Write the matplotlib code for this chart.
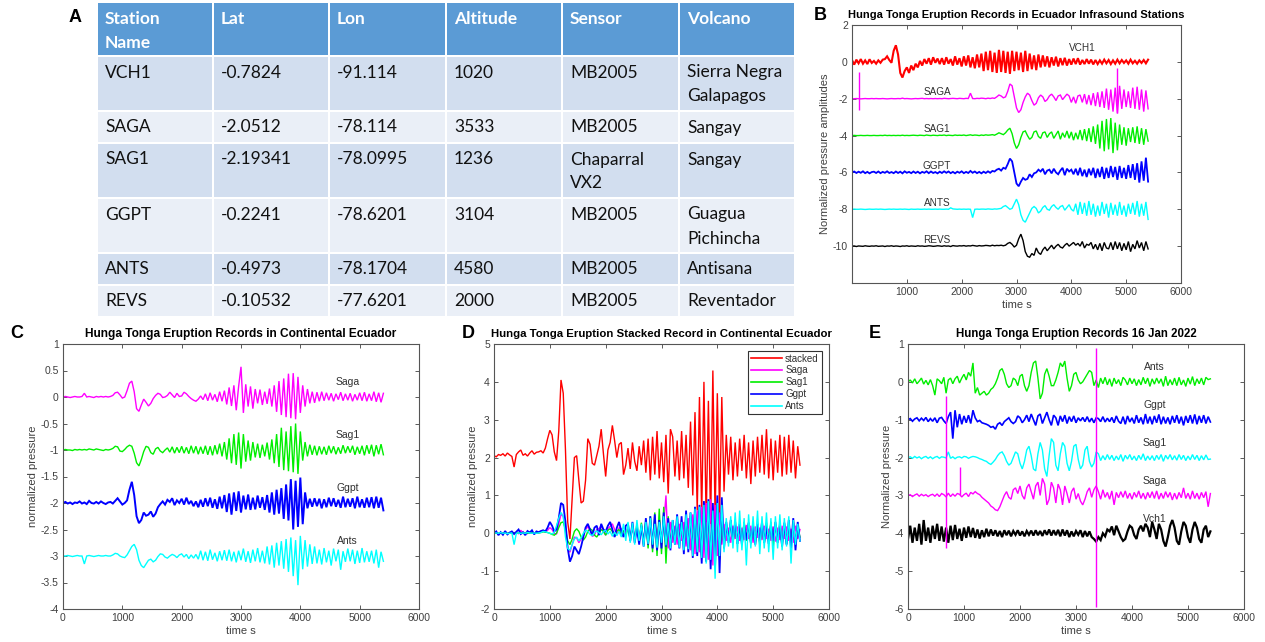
import numpy as np
import matplotlib
matplotlib.use("Agg")
import matplotlib.pyplot as plt
from matplotlib.patches import Rectangle
from matplotlib.ticker import FuncFormatter

# ---------------------------------------------------------------- station table
table_header = ["Station\nName", "Lat", "Lon", "Altitude", "Sensor", "Volcano"]
station = ["VCH1", "SAGA", "SAG1", "GGPT", "ANTS", "REVS"]
lat = [-0.7824, -2.0512, -2.19341, -0.2241, -0.4973, -0.10532]
lon = [-91.114, -78.114, -78.0995, -78.6201, -78.1704, -77.6201]
altitude = [1020, 3533, 1236, 3104, 4580, 2000]
sensor = ["MB2005", "MB2005", "Chaparral\nVX2", "MB2005", "MB2005", "MB2005"]
volcano = ["Sierra Negra\nGalapagos", "Sangay", "Sangay", "Guagua\nPichincha",
           "Antisana", "Reventador"]

# ---------------------------------------------------------------- waveforms
# All records are sampled every DT seconds; amplitudes are in hundredths of a
# normalized unit, relative to each trace's baseline.
DT = 40.0
CENTI = 0.01

# B: Ecuador infrasound stations (baselines 0, -2, ..., -10)
b_names = ["VCH1", "SAGA", "SAG1", "GGPT", "ANTS", "REVS"]
b_offsets = [0, -2, -4, -6, -8, -10]
b_vch1 = [10, -15, 12, -8, 15, -10, 8, -12, 14, -6,
          5, -10, 8, -5, 12, 15, 30, 10, -5, 60,
          90, 40, -60, -85, -50, -30, -60, -20, -45, -10,
          -30, 5, -20, 15, -10, 20, -15, 25, -5, 18,
          -12, 20, -15, 25, -10, 15, -20, 30, -15, 20,
          -25, 30, -20, 35, -30, 25, -35, 40, -30, 45,
          -50, 55, -45, 60, -55, 50, -60, 65, -55, 60,
          -60, 55, -65, 60, -50, 55, -45, 50, -55, 60,
          -50, 45, -40, 35, -45, 40, -30, 35, -25, 30,
          -30, 25, -20, 28, -25, 20, -18, 22, -20, 15,
          -15, 18, -12, 20, -15, 10, -12, 15, -10, 12,
          -14, 10, -12, 8, -10, 12, -8, 10, -12, 8,
          -10, 12, -8, 10, -6, 8, -10, 12, -8, 6,
          -10, 8, -6, 10, -8, 12]
b_saga = [0, 0, 1, 0, -1, 0, 1, 0, 0, 1,
          0, 1, 0, 0, 1, 0, -1, 0, 1, 0,
          0, 1, 0, 3, 0, 1, 0, -1, 0, 1,
          0, 1, 2, 0, 1, 0, 1, 0, 1, 0,
          1, 0, 2, 1, 0, 1, 2, 1, 0, 2,
          1, 0, 2, 1, 30, 1, 0, 2, 1, 3,
          2, 0, 3, 1, 4, 2, 10, 20, 15, 5,
          10, 40, 80, 70, 10, -50, -75, -60, -20, 10,
          30, 20, -10, -35, -25, 5, 20, 10, -15, -5,
          15, 25, 10, -10, 15, 20, -5, 10, 25, 15,
          -20, 10, -25, 15, 20, -20, 25, -30, 20, -35,
          30, -40, 35, -45, 40, -50, 55, -60, 50, -70,
          60, -80, 70, -55, 50, -45, 40, -50, 60, -55,
          65, -60, 50, -70, 45, -55]
b_sag1 = [0, 1, 0, 0, 1, 0, 0, 1, 0, 0,
          1, 0, 0, 1, 0, 2, 0, 1, 0, 1,
          0, 1, 0, 2, 0, 1, 0, 1, 2, 1,
          0, 2, 1, 0, 3, 1, 0, 2, 1, 0,
          2, 1, 3, 0, 2, 1, 0, 3, 1, 2,
          1, 3, 0, 2, 4, 1, 3, 2, 0, 3,
          1, 4, 2, 3, 5, 2, 8, 15, 10, 5,
          15, 30, 40, 10, -40, -70, -50, -10, 20, 25,
          0, -20, -10, 20, 25, -5, -15, 15, 20, -10,
          10, 20, -15, 5, 25, -20, 15, -10, 25, -15,
          20, -25, 15, -20, 30, -25, 35, -30, 40, -35,
          50, -45, 60, -70, 80, -85, 90, -75, 95, -95,
          70, -80, 60, -50, 45, -55, 40, -35, 45, -40,
          50, -45, 40, -50, 35, -30]
b_ggpt = [0, 5, -3, 4, -2, 6, -4, 3, -5, 2,
          4, -3, 5, -4, 3, -2, 6, -3, 2, -4,
          5, -3, 4, -5, 6, -2, 3, -4, 5, -3,
          4, -5, 3, -2, 6, -4, 5, -3, 2, -5,
          4, -3, 6, -2, 5, -4, 3, -5, 4, -2,
          6, -4, 3, -3, 8, -2, 5, -4, 3, -5,
          4, -3, 6, -2, 8, 5, 15, 20, 10, 25,
          20, 45, 75, 60, 0, -60, -75, -50, -30, -40,
          -35, -10, -25, -5, 0, 15, 5, 20, -10, 10,
          15, -5, 20, 0, -10, 10, 25, -15, 20, 5,
          15, -10, 20, -15, 25, -20, 15, -25, 20, -15,
          25, -30, 20, -25, 30, -35, 25, -30, 35, -25,
          30, -40, 35, -30, 25, -35, 40, -30, 45, -40,
          50, -55, 60, -45, 80, -50]
b_ants = [0, 1, 0, 0, 1, 0, -1, 0, 1, 0,
          0, 1, 0, 1, 0, -1, 0, 1, 0, 1,
          0, 0, 1, 0, 1, 0, -1, 1, 0, 0,
          1, 0, 0, 1, 0, 1, 0, 0, 1, 0,
          1, 0, 0, 1, 0, 8, 2, 1, 0, 1,
          0, 1, 0, 1, 0, -45, 0, 1, 0, 1,
          1, 0, 2, 1, 0, 2, 1, 3, 5, 15,
          20, 10, 0, 5, 30, 55, 25, -30, -60, -70,
          -45, -20, 5, 15, 5, -20, -10, 10, 20, 0,
          -5, 15, 25, 10, 0, 15, 20, -5, 10, 25,
          0, -10, 30, -30, 40, -25, 35, -35, 45, -30,
          30, -40, 20, -35, 40, -25, 30, -45, 35, -30,
          25, -35, 40, -30, 20, -40, 30, -25, 35, -30,
          45, -40, 30, -35, 40, -55]
b_revs = [0, 1, -2, 1, 0, -1, 2, 0, -1, 1,
          0, 2, -1, 0, 1, -2, 1, 0, 2, -1,
          1, 0, -2, 1, 0, 2, -1, 1, 0, -1,
          2, 0, 1, -1, 0, 2, 1, -1, 0, 2,
          1, -1, 2, 0, 1, -2, 3, 1, 0, 2,
          1, 3, 0, 2, 1, 4, 2, 0, 3, 1,
          2, 4, 3, 1, 5, 2, 4, 3, 5, 2,
          5, 15, 20, 10, -5, 5, 40, 65, 30, -30,
          -55, -60, -40, -50, -10, -35, -45, -20, -5, -25,
          -10, 5, -15, 0, 10, -5, -10, 5, 15, 0,
          10, 20, 5, 15, 0, 25, -10, 10, 5, 20,
          -15, 10, -20, 15, -25, 20, -10, -15, 20, -20,
          25, -15, 20, -25, 15, -20, 25, -30, 10, -15,
          30, -10, 20, -25, 25, -15]
# isolated glitches in the SAGA record: time [s], low and high excursion
b_saga_glitch_t = [128, 4830]
b_saga_glitch_lo = [-0.60, -0.76]
b_saga_glitch_hi = [1.45, 1.66]

# C: continental Ecuador (baselines 0, -1, -2, -3)
c_names = ["Saga", "Sag1", "Ggpt", "Ants"]
c_offsets = [0, -1, -2, -3]
c_saga = [0, 1, 0, -1, 0, 1, 0, 0, 1, 7,
          0, 1, 0, -1, 1, 0, 1, 0, 1, 0,
          1, 3, 8, 9, 4, -2, 0, 12, 26, 30,
          10, -22, -27, -15, -4, -10, -17, -12, -3, 3,
          7, 5, -1, 0, 3, 9, 4, -1, 7, 1,
          2, 9, 6, 1, -3, -6, -8, -4, 2, -5,
          6, -7, 8, -6, 5, -9, 10, -8, 12, -14,
          18, -17, 22, -25, 20, 57, -30, 24, -18, 20,
          -22, 15, -12, 14, -15, 10, -13, 16, -18, 22,
          -28, 30, -34, 35, -38, 44, -40, 45, -42, 38,
          -30, 22, -18, 15, -12, 10, -11, 9, -8, 10,
          -7, 8, -6, 7, -8, 6, -5, 9, -7, 6,
          -6, 7, -8, 5, -6, 8, -7, 9, -8, 6,
          -7, 10, -9, 8, -10, 7]
c_sag1 = [0, 1, 0, 0, -1, 1, 0, 1, 0, 1,
          0, 2, 1, 0, 2, 1, 0, -1, 1, 0,
          1, 3, 7, 6, -2, -3, 1, 6, 9, 7,
          -6, -24, -30, -18, -3, 7, 5, -5, -8, 2,
          5, -2, -5, 0, 4, -4, 6, -6, 5, -5,
          7, -6, 5, -7, 8, -6, 7, -8, 6, -7,
          8, -9, 7, -10, 9, -8, 12, -12, 15, -18,
          22, -25, 30, -28, 33, -35, 30, -22, 18, -20,
          15, -14, 12, -15, 10, -12, 14, -18, 20, -25,
          30, -32, 42, -38, 35, -40, 45, -42, 50, -45,
          35, -20, 15, -12, 10, -9, 8, -10, 7, -8,
          6, -9, 8, -6, 7, -8, 5, -7, 9, -6,
          7, -5, 8, -9, 6, -7, 8, -10, 9, -7,
          10, -12, 9, -8, 11, -9]
c_ggpt = [0, 2, -1, 1, -2, 1, 0, 3, -1, 1,
          -2, 4, 0, -1, 2, -1, 3, 0, -2, 1,
          2, -1, 4, 9, 3, -3, 0, 5, 25, 40,
          15, -25, -38, -32, -18, -24, -22, -16, -26, -20,
          -8, -2, 3, -3, 6, 2, 9, -4, 5, 0,
          8, -3, 10, -2, 4, -6, 3, -8, 6, -7,
          9, -6, 10, -9, 7, -11, 12, -10, 15, -17,
          18, -22, 20, -15, 22, -18, 14, -12, 16, -13,
          10, -12, 14, -9, 11, -13, 15, -18, 20, -22,
          25, -20, 28, -30, 35, -33, 45, -50, 42, -45,
          48, -40, 20, -10, 8, -7, 9, -6, 8, -10,
          7, -8, 10, -6, 9, -7, 6, -9, 12, -8,
          8, -7, 9, -10, 12, -8, 7, -9, 10, -8,
          11, -10, 12, -9, 10, -14]
c_ants = [0, 0, 1, 0, -1, 0, 1, 0, 0, -15,
          0, 1, 0, -1, 0, 1, 0, 0, 1, 0,
          0, 2, 5, 4, 0, -2, -3, 2, 10, 18,
          22, 12, -8, -18, -22, -15, -8, -6, -11, -8,
          -1, 4, 3, -2, -4, 0, 3, 1, -3, 2,
          4, -2, 3, -5, 2, -4, 3, -6, 10, -8,
          8, -9, 12, -7, 6, -10, 9, -8, 11, -9,
          12, -10, 8, -12, 10, -8, 14, -11, 9, -13,
          12, -10, 15, -12, 10, -14, 18, -16, 20, -22,
          25, -18, 28, -24, 32, -30, 35, -38, 30, -55,
          38, -25, 30, -20, 22, -15, 18, -14, 12, -16,
          15, -12, 10, -18, 14, -10, 12, -26, 9, -11,
          14, -10, 12, -15, 10, -13, 15, -12, 9, -11,
          10, -14, 12, -22, 8, -10]

# D: stacked record (stack baseline 2, station records at 0)
d_names = ["stacked", "Saga", "Sag1", "Ggpt", "Ants"]
d_offsets = [2, 0, 0, 0, 0]
d_stacked = [5, 2, 8, 6, 10, 4, 12, 7, 3, -25,
             8, 15, 20, 6, 10, 4, 12, 18, 9, 14,
             15, 18, 12, 25, 50, 72, 60, 15, -8, 70,
             205, 170, 20, -170, -215, -110, 0, 5, -60, -120,
             -115, -60, 50, 35, -15, -20, 5, 30, 75, 10,
             -50, 20, 40, 85, 45, 0, 35, 40, -45, -20,
             25, -30, 40, -10, -35, 30, -20, 45, -40, 50,
             -60, 55, -45, 70, -55, 40, -65, 60, -95, 75,
             55, -50, 45, -60, 70, -55, 60, -80, 95, -100,
             120, -140, 160, -150, 200, -170, 150, -175, 230, -160,
             170, -150, 160, -90, 60, -45, 55, -60, 40, -50,
             50, -35, 60, -55, 40, -70, 45, -50, 55, -40,
             60, -45, 75, -55, 50, -60, 45, -40, 60, -50,
             55, -45, 60, -40, 45, -55, 30, -20]
d_saga = [0, 2, -1, 1, 0, 3, -2, 1, 0, 2,
          1, -1, 8, 0, 2, -1, 3, 0, 1, 2,
          1, 3, 5, 4, 8, 15, 10, 0, -2, 25,
          50, 45, 5, -40, -50, -30, -10, -12, -25, -15,
          -5, 10, 18, 8, -8, -5, 10, 12, 20, 5,
          -5, 12, 18, 25, 10, -5, 15, 12, -8, 5,
          15, -10, 20, -18, 12, -20, 25, -22, 18, -25,
          30, -35, 28, -20, 35, -30, 25, 100, -40, 30,
          -25, 20, -30, 25, -20, 30, -35, 40, -45, 50,
          -55, 60, -50, 70, -65, 80, -70, 90, -85, 75,
          -60, 55, -30, 25, -20, 15, -25, 20, -15, 18,
          -20, 15, -18, 22, -15, 20, -25, 18, -12, 15,
          -18, 20, -15, 12, -20, 18, -22, 15, -18, 20,
          -15, 18, -20, 12, -25, 20, -15, 10]
d_sag1 = [0, 1, 0, 1, 0, 2, 0, 1, 0, 1,
          0, 1, 2, 0, 1, 0, 1, 2, 0, 1,
          1, 2, 4, 3, 2, 0, -3, -5, 0, 15,
          28, 30, 10, -20, -30, -15, 5, 12, 5, -10,
          -18, -10, 5, 12, 8, -5, -10, 0, 10, 5,
          -5, 8, 12, 5, -8, 6, 10, -5, 8, -6,
          12, -15, 20, -18, 25, -22, 28, -30, 35, -40,
          45, -50, 55, -60, 65, -55, 70, -80, 45, -35,
          30, -28, 35, -25, 30, -35, 40, -30, 45, -40,
          50, -55, 60, -65, 55, -60, 70, -75, 60, -80,
          65, -70, 40, -30, 25, -20, 30, -25, 20, -28,
          22, -25, 30, -20, 25, -28, 18, -22, 25, -30,
          20, -25, 28, -22, 30, -35, 25, -20, 28, -30,
          25, -28, 20, -35, 30, -25, 15, -10]
d_ggpt = [0, 5, -5, 3, -4, 6, -3, 2, 5, -2,
          4, 10, -2, 3, -5, 6, 2, 8, -3, 5,
          3, 6, 8, 5, 15, 30, 20, 5, 10, 40,
          80, 75, 30, -40, -75, -60, -35, -45, -55, -35,
          -10, 15, 25, 10, -5, 15, 20, -5, 25, 10,
          5, 20, 30, 10, -10, 15, 30, 5, -10, 20,
          25, -20, 30, -25, 15, -30, 20, -35, 40, -30,
          45, -40, 50, -45, 35, -40, 55, -35, 40, -45,
          35, -30, 50, -40, 45, -55, 60, -50, 55, -65,
          70, -60, 75, -80, 85, -75, 90, -95, 80, -85,
          100, -105, 95, -40, 30, -25, 35, -20, 30, -28,
          25, -30, 22, -18, 28, -25, 20, -30, 25, -22,
          30, -25, 18, -28, 22, -20, 30, -25, 20, -35,
          28, -30, 35, -40, 40, -45, 30, -20]
d_ants = [0, 1, 0, 2, 0, 1, -1, 0, 1, -30,
          0, 1, 0, 1, 0, 2, 1, 0, 1, 0,
          1, 2, 5, 4, 2, 0, -2, 3, 20, 40,
          55, 45, -10, -40, -45, -30, -15, -10, -20, -12,
          0, 8, 5, -3, -6, 2, 6, 2, -4, 5,
          8, -2, 5, -8, 3, -6, 5, -10, 25, -20,
          30, -25, 28, -30, 35, -20, 25, -35, 30, -28,
          40, -30, 25, -38, 30, -25, 45, -32, 28, -40,
          35, -30, 45, -38, 30, -45, 50, -42, 55, -60,
          65, -50, 70, -65, 75, -80, 85, -70, 60, -120,
          80, -60, 75, -50, 40, -35, 45, -40, 55, -50,
          60, -45, 40, -85, 50, -40, 45, -35, 60, -55,
          45, -40, 55, -50, 40, -70, 45, -40, 50, -45,
          40, -35, 45, -80, 35, -30, 25, -20]

# E: records of 16 Jan 2022 (baselines 0, -1, -2, -3, -4)
e_names = ["Ants", "Ggpt", "Sag1", "Saga", "Vch1"]
e_offsets = [0, -1, -2, -3, -4]
e_ants = [0, 5, -3, 8, -5, 2, 10, -6, 4, -8,
          6, -10, -35, 8, 3, -5, 12, -30, 5, 10,
          -5, 8, 15, -3, 10, 20, 5, 25, 15, 50,
          -30, -15, -35, -30, -25, -35, -30, -20, -15, -5,
          10, 30, 35, 20, -5, -15, -10, 10, 5, -10,
          15, 20, -10, -25, -10, 25, 50, 55, 10, -45,
          -30, 20, 35, 15, -10, -10, 5, 25, 50, 40,
          55, 10, -25, -10, 20, 25, 5, -5, 0, 10,
          20, 30, 25, -10, 5, -15, 10, -5, 12, -8,
          8, -12, 10, -5, 6, -10, 12, 5, -8, 10,
          -5, 8, -10, 6, -8, 12, -5, 10, -12, 8,
          -6, 10, -4, 8, -12, 15, -10, 6, -8, 10,
          -10, 12, -8, 5, -12, 10, -6, 14, -10, 8,
          -5, 10, -8, 12, 6, 8]
e_ggpt = [0, 3, -4, 2, 5, -3, 4, -2, 6, -5,
          3, -4, 5, -8, 4, 6, -3, -10, 8, 20,
          -50, 25, -20, 15, -12, 10, -8, 12, -10, 25,
          5, -5, -2, -8, -10, -12, -15, -20, -18, -25,
          -12, -8, -15, -5, 0, 5, -5, -10, -5, 10,
          5, -8, 0, 12, -5, 15, 0, -15, 10, 15,
          -10, 5, 20, 0, -15, 12, 5, -15, 10, -5,
          12, -10, 8, -5, 10, -8, 5, -3, 6, -5,
          8, -6, 4, -8, 5, 3, -5, 8, -6, 4,
          -5, 6, -8, 10, -4, -10, 8, -12, 10, -6,
          5, -10, 12, -8, 6, -12, 15, -10, 8, -12,
          10, -8, 14, -12, 8, -10, 6, -12, 10, -8,
          12, -10, 8, -15, 10, -8, 12, -10, 14, -12,
          10, -8, 12, -10, 8, -6]
e_sag1 = [0, 2, -2, 3, -1, 2, -3, 1, 3, -2,
          2, -3, 1, 3, -2, 2, 1, -1, 15, -2,
          2, -3, 1, 2, -1, 3, 2, -2, 1, 3,
          2, 0, -3, -5, -8, -10, -15, -18, -12, -5,
          5, 12, 15, 5, -10, -20, -15, 0, 15, 10,
          -15, -30, -10, 20, 30, 5, -30, -35, 10, 40,
          20, -30, -50, 5, 50, 40, -20, -35, 10, 40,
          30, -15, -35, -10, 30, 35, -5, -30, -20, 20,
          30, -10, -25, -15, 15, 10, -8, 5, -6, 8,
          -5, 6, -8, 4, -6, 8, -10, 6, -4, 8,
          -6, 4, -8, 6, -5, 10, -8, 4, -6, 5,
          -8, 6, -5, 8, -10, 6, -4, 8, -6, 5,
          -7, 8, -5, 6, -8, 4, -6, 8, -5, 6,
          -8, 5, -6, 7, -5, -4]
e_saga = [0, 2, -3, 1, 4, -2, 3, -1, 2, -3,
          1, 3, -2, 4, -3, 5, 2, -4, 6, -3,
          4, -2, 5, 3, -4, 2, 6, -3, 8, 4,
          10, 5, 2, -5, -10, -15, -20, -28, -32, -38,
          -40, -30, -15, 0, 10, -5, -10, 15, 20, 5,
          25, 0, -10, 20, 30, 10, -10, 25, 35, 0,
          45, 30, -25, -10, 35, 20, -20, 30, 15, -25,
          25, 5, -20, 10, 20, -10, 5, -15, -25, -10,
          10, 20, -5, 15, 25, 10, -10, 15, -5, 8,
          -10, 12, -25, 8, -6, 10, -5, 12, -8, 6,
          -10, 8, -5, 12, -8, 6, -10, 8, -6, 10,
          -8, 12, -10, 6, -8, 10, -5, 8, -12, 6,
          -10, 8, -6, 20, -8, 6, -10, 12, -8, 6,
          -10, 8, -6, 10, -30, 5]
e_vch1 = [-15, 20, -25, 15, -20, 25, -30, 35, -20, 15,
          -25, 20, -15, 25, -20, 18, -22, 15, -25, 20,
          -18, 22, -15, 12, -20, 15, -12, 18, -10, 14,
          -12, 10, -14, 8, -10, 12, -8, 10, -6, 8,
          -8, 6, -10, 8, -5, 7, -8, 6, -4, 8,
          -6, 5, -8, 6, -4, 7, -6, 8, -5, 6,
          -7, 8, -4, 10, -6, 8, -5, 9, -8, 10,
          -6, 8, -10, 5, -8, 6, -4, 8, -10, 6,
          -8, 5, -10, -15, -22, -10, -18, 0, -8, 10,
          5, 18, -5, 20, 5, -10, -20, -15, 5, 20,
          15, -5, -15, 10, 20, 5, 25, 15, -10, 30,
          10, -15, 25, 10, -20, -35, -10, 20, 35, 15,
          -20, -30, 5, 30, 20, -10, -25, 10, 30, 15,
          -15, -25, 10, 20, -10, 5]
# isolated glitches in the Saga record of 16 Jan
e_saga_glitch_t = [680, 930, 3355]
e_saga_glitch_lo = [-1.38, 0.0, -2.95]
e_saga_glitch_hi = [2.63, 0.75, 3.90]

# ---------------------------------------------------------------- styling
W, H = 1265, 642
RED, MAG, GRN, BLU, CYN, BLK = "#ff0000", "#ff00ff", "#00ee00", "#0000ff", "#00ffff", "#000000"
TICK_C = "#404040"
LABEL_C = "#303030"

plt.rcParams["font.family"] = ["Liberation Sans", "DejaVu Sans"]
fig = plt.figure(figsize=(W / 100, H / 100), dpi=100)

# full-figure pixel canvas for the table and panel letters
canvas = fig.add_axes([0, 0, 1, 1], zorder=0)
canvas.set_xlim(0, W)
canvas.set_ylim(H, 0)
canvas.axis("off")


def px_axes(left, top, right, bottom):
    return fig.add_axes([left / W, 1 - bottom / H, (right - left) / W, (bottom - top) / H], zorder=1)


def style_axes(ax, xlim, ylim, yticks, xticks):
    ax.set_xlim(*xlim)
    ax.set_ylim(*ylim)
    ax.set_xticks(xticks)
    ax.set_yticks(yticks)
    fmt = FuncFormatter(lambda v, p: f"{v:g}")
    ax.xaxis.set_major_formatter(fmt)
    ax.yaxis.set_major_formatter(fmt)
    ax.tick_params(direction="in", top=True, right=True, length=3, width=0.6,
                   labelsize=7.5, colors=TICK_C, pad=3)
    for s in ax.spines.values():
        s.set_color("#555555")
        s.set_linewidth(0.8)


def draw_trace(ax, vals, offset, color, lw=1.0):
    v = np.asarray(vals, float) * CENTI + offset
    t = DT * np.arange(len(v))
    return ax.plot(t, v, color=color, lw=lw, solid_joinstyle="miter")[0]


# ---------------------------------------------------------------- panel A: table
col_edges = [97, 213, 329, 446, 562, 679, 795]
HEADER_BLUE = "#5B9BD5"
ROW_DARK, ROW_LIGHT = "#D2DEEF", "#EAEFF7"
TFONT = ["Lato", "DejaVu Sans"]
TSIZE = 12.5


def cell_row(y_top, height, texts, fill, color, weight):
    for c, txt in enumerate(texts):
        x0, x1 = col_edges[c] + 1, col_edges[c + 1] - 1
        canvas.add_patch(Rectangle((x0, y_top), x1 - x0, height, facecolor=fill,
                                   edgecolor="none"))
        for k, line in enumerate(str(txt).split("\n")):
            canvas.text(x0 + 7, y_top + 15.5 + 24 * k, line, fontsize=TSIZE, color=color,
                        fontweight=weight, family=TFONT, va="center", ha="left")


cell_row(3, 52, table_header, HEADER_BLUE, "white", "bold")
y = 57
for r in range(len(station)):
    cells = [station[r], lat[r], lon[r], altitude[r], sensor[r], volcano[r]]
    nlines = max(str(c).count("\n") + 1 for c in cells)
    h = 30 + 23 * (nlines - 1)
    cell_row(y, h, cells, ROW_DARK if r % 2 == 0 else ROW_LIGHT, "#111111", "normal")
    y += h + 2

# panel letters
for letter, (lx, ly) in {"A": (75, 17), "B": (820, 15), "C": (17, 333),
                         "D": (468, 333), "E": (875, 333)}.items():
    canvas.text(lx, ly, letter, fontsize=13, fontweight="bold", ha="center", va="center")

# ---------------------------------------------------------------- panel B
axB = px_axes(852, 25, 1181, 283)
b_series = [b_vch1, b_saga, b_sag1, b_ggpt, b_ants, b_revs]
b_colors = [RED, MAG, GRN, BLU, CYN, BLK]
b_widths = [1.5, 1.0, 1.0, 1.3, 1.0, 1.0]
for vals, off, col, lw in zip(b_series, b_offsets, b_colors, b_widths):
    draw_trace(axB, vals, off, col, lw=lw)
axB.vlines(b_saga_glitch_t, [b_offsets[1] + v for v in b_saga_glitch_lo],
           [b_offsets[1] + v for v in b_saga_glitch_hi], color=MAG, lw=1.0)
for i, (name, off) in enumerate(zip(b_names, b_offsets)):
    if i == 0:
        axB.text(4200, off + 0.75, name, fontsize=7.2, color=LABEL_C, ha="center", va="center")
    else:
        axB.text(1550, off + 0.35, name, fontsize=7.2, color=LABEL_C, ha="center", va="center")
style_axes(axB, (0, 6000), (-12, 2), np.arange(-10, 3, 2), np.arange(1000, 6001, 1000))
axB.set_title("Hunga Tonga Eruption Records in Ecuador Infrasound Stations",
              fontsize=8.0, fontweight="bold", pad=5)
axB.set_xlabel("time s", fontsize=8, color=TICK_C, labelpad=2)
axB.set_ylabel("Normalized pressure amplitudes", fontsize=8, color=TICK_C, labelpad=2)

# ---------------------------------------------------------------- panel C
axC = px_axes(63, 344, 419, 609)
c_series = [c_saga, c_sag1, c_ggpt, c_ants]
c_colors = [MAG, GRN, BLU, CYN]
c_widths = [1.0, 1.0, 1.4, 1.0]
for vals, off, col, lw, name in zip(c_series, c_offsets, c_colors, c_widths, c_names):
    draw_trace(axC, vals, off, col, lw=lw)
    axC.text(4800, off + 0.29, name, fontsize=7.5, color=LABEL_C, ha="center", va="center")
style_axes(axC, (0, 6000), (-4, 1), np.arange(-4, 1.01, 0.5), np.arange(0, 6001, 1000))
axC.set_title("Hunga Tonga Eruption Records in Continental Ecuador",
              fontsize=8.6, fontweight="bold", pad=5)
axC.set_xlabel("time s", fontsize=8, color=TICK_C, labelpad=2)
axC.set_ylabel("normalized pressure", fontsize=8, color=TICK_C, labelpad=2)

# ---------------------------------------------------------------- panel D
axD = px_axes(494, 344, 829, 609)
d_series = [d_stacked, d_saga, d_sag1, d_ggpt, d_ants]
d_colors = [RED, MAG, GRN, BLU, CYN]
d_widths = [1.0, 1.0, 1.0, 1.3, 1.0]
for vals, off, col, lw, name in zip(d_series, d_offsets, d_colors, d_widths, d_names):
    ln = draw_trace(axD, vals, off, col, lw=lw)
    ln.set_label(name)
style_axes(axD, (0, 6000), (-2, 5), np.arange(-2, 6, 1), np.arange(0, 6001, 1000))
leg = axD.legend(loc="upper right", bbox_to_anchor=(0.978, 0.975), borderaxespad=0,
                 fontsize=7, handlelength=3.2, handletextpad=0.3, labelspacing=0.2,
                 borderpad=0.3, fancybox=False, framealpha=1)
leg.get_frame().set_edgecolor("#333333")
leg.get_frame().set_linewidth(0.8)
for h in leg.get_lines():
    h.set_linewidth(1.2)
for txt in leg.get_texts():
    txt.set_color(LABEL_C)
axD.set_title("Hunga Tonga Eruption Stacked Record in Continental Ecuador",
              fontsize=8.2, fontweight="bold", pad=5)
axD.set_xlabel("time s", fontsize=8, color=TICK_C, labelpad=2)
axD.set_ylabel("normalized pressure", fontsize=8, color=TICK_C, labelpad=2)

# ---------------------------------------------------------------- panel E
axE = px_axes(908, 344, 1244, 609)
e_series = [e_ants, e_ggpt, e_sag1, e_saga, e_vch1]
e_colors = [GRN, BLU, CYN, MAG, BLK]
e_widths = [1.0, 1.2, 1.0, 1.0, 1.6]
for vals, off, col, lw, name in zip(e_series, e_offsets, e_colors, e_widths, e_names):
    draw_trace(axE, vals, off, col, lw=lw)
    axE.text(4400, off + 0.39, name, fontsize=7.5, color=LABEL_C, ha="center", va="center")
axE.vlines(e_saga_glitch_t, [e_offsets[3] + v for v in e_saga_glitch_lo],
           [e_offsets[3] + v for v in e_saga_glitch_hi], color=MAG, lw=1.0, zorder=3)
style_axes(axE, (0, 6000), (-6, 1), np.arange(-6, 2, 1), np.arange(0, 6001, 1000))
axE.set_title("Hunga Tonga Eruption Records 16 Jan 2022",
              fontsize=8.3, fontweight="bold", pad=5)
axE.set_xlabel("time s", fontsize=8, color=TICK_C, labelpad=2)
axE.set_ylabel("Normalized pressure", fontsize=8, color=TICK_C, labelpad=2)

fig.savefig("out.png", dpi=100)
